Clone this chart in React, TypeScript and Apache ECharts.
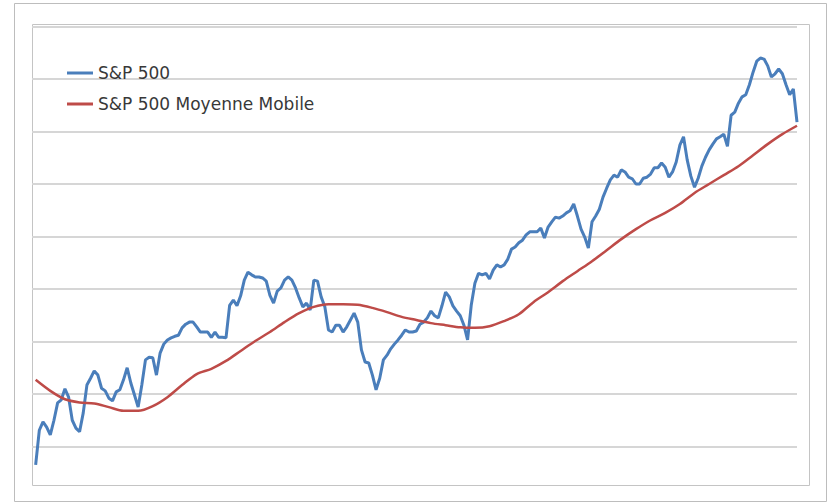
import React, { useEffect, useRef } from "react";
import * as echarts from "echarts";

// Weekly closes of the S&P 500 (week index 0..208)
const sp500: number[] = [
  765, 831, 847, 837, 822, 850, 883, 889, 910, 894,
  850, 835, 828, 864, 917, 930, 944, 936, 911, 906,
  892, 887, 904, 908, 927, 950, 921, 898, 875, 917,
  965, 970, 969, 936, 978, 995, 1003, 1007, 1010, 1012,
  1026, 1033, 1037, 1037, 1028, 1018, 1018, 1018, 1008, 1018,
  1008, 1008, 1007, 1069, 1079, 1068, 1087, 1117, 1132, 1127,
  1123, 1123, 1121, 1115, 1088, 1073, 1096, 1102, 1117, 1123,
  1117, 1102, 1083, 1066, 1073, 1060, 1117, 1115, 1085, 1066,
  1022, 1018, 1031, 1031, 1018, 1028, 1041, 1054, 1037, 984,
  961, 959, 936, 908, 930, 965, 974, 986, 995, 1003,
  1012, 1022, 1018, 1018, 1020, 1033, 1037, 1045, 1058, 1049,
  1045, 1068, 1094, 1085, 1068, 1058, 1049, 1031, 1003, 1069,
  1111, 1130, 1127, 1130, 1119, 1136, 1146, 1142, 1146, 1157,
  1176, 1180, 1188, 1193, 1203, 1209, 1209, 1209, 1216, 1197,
  1218, 1228, 1237, 1235, 1239, 1245, 1249, 1262, 1239, 1214,
  1199, 1178, 1228, 1239, 1252, 1275, 1292, 1308, 1317, 1313,
  1327, 1323, 1313, 1310, 1300, 1300, 1311, 1313, 1319, 1331,
  1331, 1340, 1332, 1313, 1323, 1342, 1374, 1390, 1346, 1315,
  1294, 1311, 1334, 1351, 1365, 1376, 1386, 1390, 1395, 1372,
  1431, 1437, 1454, 1466, 1470, 1489, 1513, 1534, 1540, 1538,
  1525, 1504, 1510, 1519, 1510, 1489, 1470, 1481, 1418,
];

// Moving average, sampled every 4 weeks (weeks 0, 4, 8, ... 208)
const maStep = 4;
const movingAverage: number[] = [
  927, 906, 890, 884, 882, 875, 868, 868, 877, 894,
  917, 938, 948, 963, 982, 1001, 1018, 1037, 1054, 1066,
  1071, 1071, 1070, 1064, 1056, 1047, 1041, 1035, 1031, 1027,
  1026, 1029, 1039, 1052, 1075, 1094, 1115, 1134, 1153, 1174,
  1195, 1214, 1231, 1245, 1262, 1283, 1300, 1317, 1334, 1355,
  1376, 1395, 1411,
];

const seriesNames = ["S&P 500", "S&P 500 Moyenne Mobile"];
const blue = "#4a7ebb";
const red = "#be4b48";

export default function App() {
  const ref = useRef<HTMLDivElement>(null);

  useEffect(() => {
    if (!ref.current) return;
    const chart = echarts.init(ref.current, null, { renderer: "svg" });
    const font = "DejaVu Sans";
    const legendText = { fontFamily: font, fontSize: 17, color: "#383838", lineHeight: 17 };
    chart.setOption({
      animation: false,
      backgroundColor: "#ffffff",
      graphic: [
        {
          type: "rect",
          shape: { x: 14.5, y: 3.5, width: 812, height: 498 },
          style: { fill: "none", stroke: "#bdbdbd", lineWidth: 1 },
          silent: true,
        },
        {
          type: "rect",
          shape: { x: 32.5, y: 24.5, width: 777, height: 461 },
          style: { fill: "none", stroke: "#c4c4c4", lineWidth: 1 },
          silent: true,
        },
      ],
      legend: [
        {
          data: [seriesNames[0]],
          left: 62,
          top: 59.5,
          icon: "rect",
          itemWidth: 26,
          itemHeight: 3,
          textStyle: legendText,
        },
        {
          data: [seriesNames[1]],
          left: 62,
          top: 90.5,
          icon: "rect",
          itemWidth: 26,
          itemHeight: 3,
          textStyle: legendText,
        },
      ],
      grid: { left: 32, right: 31, top: 24, bottom: 4, containLabel: false },
      xAxis: {
        type: "value",
        min: -1,
        max: 208,
        show: false,
        splitLine: { show: false },
      },
      yAxis: {
        type: "value",
        min: 700,
        max: 1604.8,
        interval: 100,
        axisLabel: { show: false },
        axisLine: { show: false },
        axisTick: { show: false },
        splitLine: {
          show: true,
          showMinLine: false,
          showMaxLine: false,
          lineStyle: { color: "#d6d6d6", width: 2 },
        },
      },
      series: [
        {
          name: seriesNames[0],
          type: "line",
          data: sp500.map((v, i) => [i, v]),
          showSymbol: false,
          symbol: "none",
          itemStyle: { color: blue },
          lineStyle: { color: blue, width: 3 },
        },
        {
          name: seriesNames[1],
          type: "line",
          data: movingAverage.map((v, i) => [i * maStep, v]),
          showSymbol: false,
          symbol: "none",
          smooth: 0.3,
          itemStyle: { color: red },
          lineStyle: { color: red, width: 2.5 },
        },
      ],
    });
    return () => chart.dispose();
  }, []);

  return (
    <div
      ref={ref}
      style={{ position: "fixed", left: 0, top: 0, width: 828, height: 503 }}
    />
  );
}
